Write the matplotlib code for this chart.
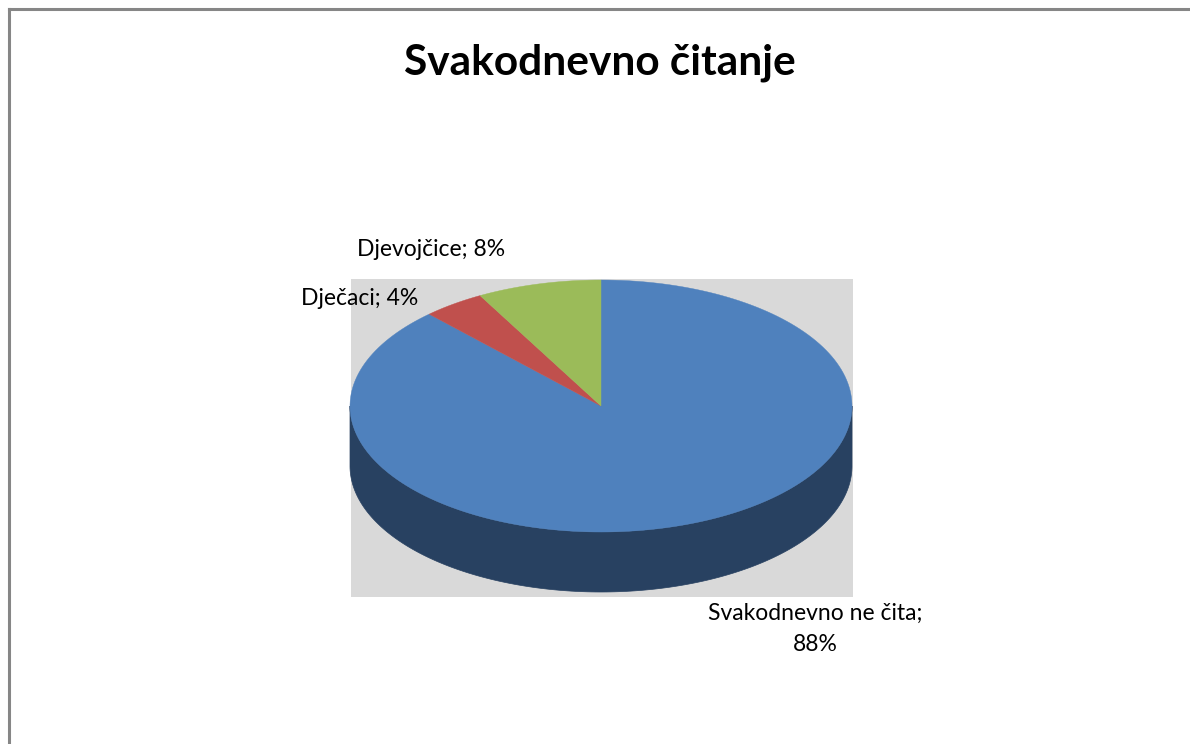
"""
    plot.py
        -- 3D-style pie chart: Svakodnevno čitanje
"""
import numpy as np
import matplotlib
matplotlib.use("Agg")
import matplotlib.pyplot as plt
from matplotlib.patches import Polygon, Rectangle
from matplotlib.lines import Line2D

plt.rcParams["font.family"] = ["Lato", "DejaVu Sans"]

title = "Svakodnevno čitanje"
categories = ["Svakodnevno ne čita", "Dječaci", "Djevojčice"]
shares = [88, 4, 8]
colors = ["#4F81BD", "#C0504D", "#9BBB59"]
side_colors = ["#284161", "#7A2F2D", "#5F7634"]


def arc(cx, cy, a, b, t0, t1, n=200):
    t = np.radians(np.linspace(t0, t1, n))
    return np.column_stack([cx + a * np.cos(t), cy - b * np.sin(t)])


def main():
    W, H = 1190, 744
    fig = plt.figure(figsize=(W / 100, H / 100), dpi=100)
    ax = fig.add_axes([0, 0, 1, 1])
    ax.set_xlim(0, W)
    ax.set_ylim(H, 0)
    ax.axis("off")

    # chart frame (top and left visible only)
    fig.add_artist(Line2D([9 / W, 1], [1 - 9 / H] * 2, color="#868686", lw=2.2))
    fig.add_artist(Line2D([9 / W] * 2, [0, 1 - 9 / H], color="#868686", lw=2.2))

    # plot area
    ax.add_patch(Rectangle((351, 279), 502, 318, facecolor="#D9D9D9", edgecolor="none"))

    cx, cy, a, b, depth = 601, 406, 251, 126, 60
    total = float(sum(shares))
    starts = []
    ang = 90.0
    for v in shares:
        sweep = v / total * 360.0
        starts.append((ang - sweep, ang))
        ang -= sweep

    # visible side walls (front half of the ellipse)
    for (t0, t1), sc in zip(starts, side_colors):
        for lo, hi in [(t0, t1), (t0 + 360, t1 + 360), (t0 - 360, t1 - 360)]:
            s0, s1 = max(lo, 180), min(hi, 360)
            if s1 <= s0:
                continue
            top = arc(cx, cy, a, b, s0, s1)
            bot = arc(cx, cy + depth, a, b, s1, s0)
            ax.add_patch(Polygon(np.vstack([top, bot]), closed=True,
                                 facecolor=sc, edgecolor=sc, lw=0.5))

    # top faces
    for (t0, t1), c in zip(starts, colors):
        pts = np.vstack([[cx, cy], arc(cx, cy, a, b, t0, t1)])
        ax.add_patch(Polygon(pts, closed=True, facecolor=c, edgecolor=c, lw=0.3))

    ax.text(600, 75, title, ha="center", va="baseline", fontsize=30.5,
            fontweight="bold", color="black")

    fs = 16.5
    ax.text(815, 620, f"{categories[0]};", ha="center", va="baseline", fontsize=fs)
    ax.text(815, 651, f"{shares[0]}%", ha="center", va="baseline", fontsize=fs)
    ax.text(301, 305, f"{categories[1]}; {shares[1]}%", ha="left", va="baseline",
            fontsize=fs)
    ax.text(357, 256, f"{categories[2]}; {shares[2]}%", ha="left", va="baseline",
            fontsize=fs)

    fig.savefig("out.png", dpi=100)


if __name__ == "__main__":
    main()
